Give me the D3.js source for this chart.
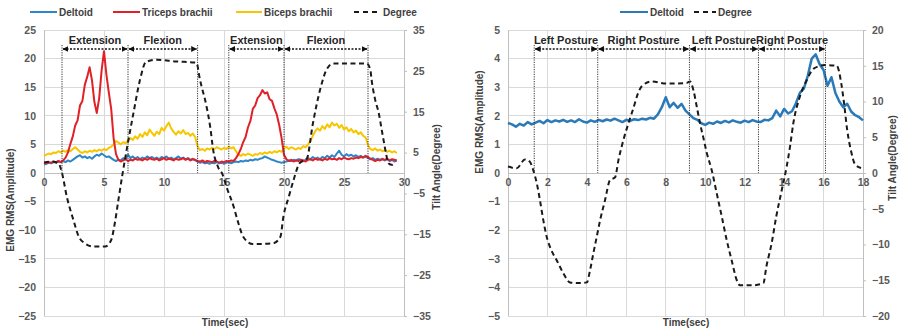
<!DOCTYPE html>
<html><head><meta charset="utf-8">
<script src="https://cdn.jsdelivr.net/npm/d3@7"></script>
<style>
body{margin:0;background:#fff;}
svg{display:block;font-family:"Liberation Sans",Arial,sans-serif;}
</style></head><body>
<svg id="chart" width="901" height="332"></svg>
<script>
// ---------------- DATA ----------------
// Left chart: EMG sampled every 0.2 s from t = 0
const leftStep = 0.2;
const leftDeltoid = [
1.5,1.6,1.8,1.7,1.9,1.8,2.0,1.9,2.1,1.9,
2.2,2.0,2.3,2.6,2.9,3.1,2.7,2.9,2.6,2.8,
2.5,2.9,3.2,3.0,3.4,3.1,2.8,2.9,2.6,2.3,
2.1,2.3,2.2,2.6,2.4,3.2,2.6,2.9,2.5,2.8,
2.4,2.7,2.5,2.9,2.6,2.8,2.5,2.7,2.4,2.8,
2.6,2.9,2.5,2.7,2.4,2.6,2.9,2.5,2.7,2.4,
2.6,2.3,2.5,2.2,2.0,1.8,1.9,1.7,1.8,1.6,
1.8,1.7,1.9,1.7,1.8,1.6,1.8,1.9,1.7,1.9,
2.0,1.9,2.1,2.0,2.2,2.1,2.3,2.2,2.4,2.3,
2.5,2.6,2.9,2.7,2.5,2.3,2.2,2.0,1.9,1.8,
1.9,2.0,2.2,2.1,2.3,2.2,2.4,2.3,2.1,2.3,
2.6,2.4,2.8,2.5,2.7,2.4,2.8,2.6,3.0,2.7,
3.1,2.8,3.4,3.9,3.2,2.9,3.3,3.0,3.2,2.9,
3.1,2.8,3.0,2.7,2.9,2.6,2.4,2.6,2.3,2.5,
2.3,2.5,2.2,2.4,2.1,2.3,2.0,2.2];
const leftTriceps = [
1.8,1.7,1.9,1.8,2.0,1.9,2.1,1.9,2.2,2.7,
3.6,5.1,6.4,8.3,9.2,11.8,12.6,15.4,16.8,18.5,
16.2,12.4,10.5,13.1,17.9,21.3,17.2,14.1,11.2,6.1,
3.3,2.3,2.0,2.2,2.4,2.1,2.3,2.2,2.5,2.3,
2.4,2.2,2.5,2.3,2.6,2.4,2.3,2.5,2.2,2.4,
2.6,2.3,2.5,2.4,2.2,2.5,2.3,2.4,2.6,2.3,
2.5,2.2,2.4,2.3,2.1,2.0,2.2,1.9,2.1,2.0,
1.9,2.1,2.0,1.8,2.0,1.9,2.1,2.0,2.2,2.1,
2.6,3.3,4.2,5.4,6.3,8.0,9.1,11.2,11.8,13.1,
13.6,14.5,13.9,14.1,12.9,12.6,11.3,10.2,8.4,6.1,
3.2,2.4,2.1,2.3,2.0,2.2,2.1,2.3,2.2,2.0,
2.3,2.4,2.2,2.5,2.3,2.4,2.2,2.5,2.3,2.6,
2.4,2.5,2.3,2.6,2.4,2.7,2.5,2.4,2.6,2.5,
2.7,2.6,2.8,2.7,3.0,2.8,2.5,2.3,2.1,2.3,
2.2,2.4,2.3,2.5,2.2,2.4,2.3,2.2];
const leftBiceps = [
3.0,3.2,3.4,3.3,3.6,3.5,3.8,3.6,3.9,3.7,
4.0,3.8,4.2,4.5,4.1,3.7,3.5,3.8,3.6,3.9,
3.7,4.0,3.8,4.1,3.9,4.2,4.0,4.4,4.6,5.0,
5.6,5.3,5.0,5.4,5.2,5.7,6.1,5.8,6.4,6.0,
6.8,6.3,7.1,6.6,7.6,7.0,6.5,7.2,6.8,7.9,
7.4,8.2,8.8,7.8,7.2,6.7,7.3,6.9,7.5,6.8,
7.0,6.5,6.9,6.3,4.6,4.0,4.2,3.9,4.3,4.1,
4.4,4.2,4.5,4.3,4.1,4.4,4.2,4.6,4.3,4.5,
3.8,3.2,3.0,3.3,3.1,3.4,3.2,3.0,3.3,3.2,
3.5,3.3,3.6,3.4,3.7,3.5,3.8,3.6,3.9,3.7,
4.3,4.6,4.2,4.5,4.3,4.1,4.4,4.2,4.7,4.5,
5.0,5.6,6.5,7.3,7.8,7.4,8.2,7.7,8.5,8.0,
8.8,8.3,8.6,7.9,8.4,7.6,8.0,7.3,7.7,7.1,
7.4,6.8,7.1,6.5,6.2,4.9,4.2,4.0,4.3,3.9,
4.1,3.8,4.0,3.7,3.9,3.6,3.8,3.5];
// [time (s), tilt angle (deg)]
const leftDegree = [[0,2.6],[0.6,2.8],[1.2,2.4],[1.5,0],[1.9,-5.8],[2.45,-11.5],[2.9,-15.6],[3.4,-17.2],[4.1,-18],[5.1,-18],[5.6,-16.4],[5.9,-12.3],[6.2,-6.6],[6.5,-1],[7.0,7.5],[7.45,14.6],[8.0,22.8],[8.5,27.2],[9.4,27.7],[11.0,27.3],[12.7,27],[13.0,22.8],[13.55,16.2],[13.85,11.3],[14.1,5.6],[14.5,1.5],[14.9,-0.5],[15.2,-3.3],[15.8,-8.2],[16.2,-12.3],[16.6,-15.6],[17.4,-17.4],[19.1,-17.2],[19.7,-15.6],[19.95,-10.7],[20.4,-5.8],[20.8,-1.7],[21.3,2.4],[21.9,3.5],[22.4,12],[23.0,20.3],[23.6,25.6],[24.1,26.8],[26.9,26.8],[27.2,25.2],[27.3,22.8],[27.6,17.9],[27.9,14.6],[28.1,11.3],[28.3,8],[28.5,4.8],[28.7,2.4],[29.0,2],[29.2,2.4]];
const leftXTicks = [0,5,10,15,20,25,30];
const leftYTicks = [-25,-20,-15,-10,-5,0,5,10,15,20,25];
const leftY2Ticks = [-35,-25,-15,-5,5,15,25,35];
const leftPhaseLabels = ["Extension","Flexion","Extension","Flexion"];
const leftPhaseStart = [1.5,7.0,15.4,20.0];
const leftPhaseEnd = [7.0,12.8,20.0,27.0];

// Right chart
const rightStep = 0.2;
const rightDeltoid = [
1.75,1.70,1.62,1.72,1.66,1.78,1.70,1.76,1.82,1.74,
1.85,1.78,1.84,1.80,1.86,1.79,1.84,1.78,1.88,1.80,
1.76,1.84,1.79,1.86,1.81,1.87,1.83,1.90,1.84,1.78,
1.86,1.82,1.88,1.85,1.90,1.87,1.93,1.90,2.05,2.30,
2.65,2.30,2.45,2.28,2.42,2.18,2.05,1.92,1.86,1.74,
1.68,1.76,1.72,1.80,1.75,1.82,1.77,1.84,1.79,1.76,
1.83,1.78,1.85,1.80,1.78,1.86,1.84,1.92,2.18,1.98,
2.24,2.08,2.16,2.44,2.80,2.95,3.40,4.00,4.15,3.80,
3.60,3.05,3.35,2.80,2.50,2.30,2.42,2.15,2.02,1.95,
1.84];
const rightDegree = [[0,0.9],[0.44,0.65],[0.86,1.9],[1.1,1.6],[1.28,0.4],[1.46,-1.45],[1.62,-3.8],[1.79,-6.6],[1.96,-8.9],[2.2,-10.8],[2.47,-12.2],[2.8,-14],[3.14,-15.3],[3.65,-15.4],[4.0,-15.3],[4.16,-13.6],[4.33,-11.2],[4.5,-8.9],[4.67,-6.6],[4.92,-3.8],[5.17,-1],[5.43,-0.6],[5.6,1.8],[5.85,4.6],[6.1,6.9],[6.35,9.0],[6.6,11.2],[6.8,12.2],[7.3,12.8],[8.05,12.5],[9.06,12.6],[9.23,12.8],[9.4,11.6],[9.57,9.3],[9.74,6.9],[9.9,5],[10.08,2.8],[10.33,0.4],[10.58,-2.8],[10.84,-6.1],[11.09,-9.4],[11.34,-12.2],[11.6,-15],[11.76,-15.7],[12.4,-15.7],[12.95,-15.4],[13.1,-13.1],[13.37,-9.8],[13.6,-6.1],[13.88,-2.4],[14.13,0.9],[14.3,3.7],[14.47,7],[14.8,10.7],[15.15,13],[15.5,14.6],[16.08,15.1],[16.67,15],[16.9,12.5],[17.05,9.5],[17.2,6],[17.4,3],[17.6,1.2],[17.9,0.7]];
const rightXTicks = [0,2,4,6,8,10,12,14,16,18];
const rightYTicks = [-5,-4,-3,-2,-1,0,1,2,3,4,5];
const rightY2Ticks = [-20,-15,-10,-5,0,5,10,15,20];
const rightPhaseLabels = ["Left Posture","Right Posture","Left Posture","Right Posture"];
const rightPhaseStart = [1.33,4.55,9.2,12.7];
const rightPhaseEnd = [4.55,9.2,12.7,16.1];

// ---------------- DRAW ----------------
const svg = d3.select("#chart");
svg.append("rect").attr("width",901).attr("height",332).attr("fill","#fff");

const defs = svg.append("defs");
defs.append("marker").attr("id","arrEnd").attr("viewBox","0 0 10 10").attr("refX",9).attr("refY",5)
  .attr("markerWidth",6).attr("markerHeight",6).attr("markerUnits","userSpaceOnUse").attr("orient","auto")
  .append("path").attr("d","M0,0L10,5L0,10Z").attr("fill","#111");
defs.append("marker").attr("id","arrStart").attr("viewBox","0 0 10 10").attr("refX",1).attr("refY",5)
  .attr("markerWidth",6).attr("markerHeight",6).attr("markerUnits","userSpaceOnUse").attr("orient","auto")
  .append("path").attr("d","M10,0L0,5L10,10Z").attr("fill","#111");

const labelColor = "#595959";
const gridColor = "#d9d9d9";

function drawChart(o){
  const g = svg.append("g");
  const [yb, yt] = o.y.range();
  const [xl, xr] = o.x.range();
  // grid
  g.selectAll(".vg").data(o.xTicks).join("line")
    .attr("x1",d=>o.x(d)).attr("x2",d=>o.x(d)).attr("y1",yt).attr("y2",yb)
    .attr("stroke",gridColor).attr("stroke-width",1).attr("shape-rendering","crispEdges");
  g.selectAll(".hg").data(o.yTicks).join("line")
    .attr("x1",xl).attr("x2",xr).attr("y1",d=>o.y(d)).attr("y2",d=>o.y(d))
    .attr("stroke",d=>d===0?"#bfbfbf":gridColor).attr("stroke-width",1).attr("shape-rendering","crispEdges");
  // axis lines
  g.append("line").attr("x1",xl).attr("x2",xl).attr("y1",yt).attr("y2",yb).attr("stroke","#bfbfbf").attr("shape-rendering","crispEdges");

  // left axis labels
  const ay = g.append("g").attr("transform",`translate(${xl},0)`)
    .call(d3.axisLeft(o.y).tickValues(o.yTicks).tickSize(0).tickPadding(8));
  ay.select(".domain").remove();
  // right axis
  const ay2 = g.append("g").attr("transform",`translate(${xr},0)`)
    .call(d3.axisRight(o.y2).tickValues(o.y2Ticks).tickSize(3).tickPadding(6).tickSizeOuter(0));
  ay2.select(".domain").attr("stroke","#bfbfbf");
  ay2.selectAll(".tick line").attr("stroke","#bfbfbf");
  // bottom labels at y=0
  const ax = g.append("g").attr("transform",`translate(0,${o.y(0)})`)
    .call(d3.axisBottom(o.x).tickValues(o.xTicks).tickSize(0).tickPadding(6));
  ax.select(".domain").remove();
  [ay,ay2,ax].forEach(a=>a.selectAll("text").attr("fill",labelColor).attr("font-size",10.5)
     .attr("font-weight","bold").attr("font-family","'Liberation Sans',Arial,sans-serif"));

  // series
  o.series.forEach(s=>{
    const line = d3.line().x((d,i)=>o.x(i*s.step)).y(d=>o.y(d));
    g.append("path").datum(s.values).attr("d",line).attr("fill","none")
      .attr("stroke",s.color).attr("stroke-width",s.width).attr("stroke-linejoin","round");
  });
  // degree
  const dline = d3.line().x(d=>o.x(d[0])).y(d=>o.y2(d[1])).curve(d3.curveMonotoneX);
  g.append("path").datum(o.degree).attr("d",dline).attr("fill","none")
    .attr("stroke","#1a1a1a").attr("stroke-width",2).attr("stroke-dasharray","5,3.5");

  // phases
  const bounds = Array.from(new Set(o.phaseStart.concat(o.phaseEnd)));
  g.selectAll(".pv").data(bounds).join("line")
    .attr("x1",d=>o.x(d)).attr("x2",d=>o.x(d)).attr("y1",45).attr("y2",o.y(0))
    .attr("stroke","#333").attr("stroke-width",1).attr("stroke-dasharray","1.2,1.2");
  o.phaseLabels.forEach((lab,i)=>{
    const a = o.x(o.phaseStart[i]), b = o.x(o.phaseEnd[i]);
    g.append("line").attr("x1",a+1).attr("x2",b-1).attr("y1",49).attr("y2",49)
      .attr("stroke","#111").attr("stroke-width",1.5).attr("stroke-dasharray","2,1.5")
      .attr("marker-start","url(#arrStart)").attr("marker-end","url(#arrEnd)");
    g.append("text").attr("x",(a+b)/2).attr("y",44).attr("text-anchor","middle")
      .attr("font-size",11).attr("font-weight","bold").attr("fill","#262626").text(lab);
  });

  // legend
  o.legend.forEach(l=>{
    g.append("line").attr("x1",l.x1).attr("x2",l.x2).attr("y1",12).attr("y2",12)
      .attr("stroke",l.color).attr("stroke-width",2)
      .attr("stroke-dasharray",l.dash?"5,4":null);
    g.append("text").attr("x",l.x2+2).attr("y",15.5).attr("font-size",10).attr("font-weight","bold")
      .attr("fill","#404040").text(l.label);
  });

  // titles
  const t = o.titles;
  g.append("text").attr("x",t.xTitle[0]).attr("y",t.xTitle[1]).attr("text-anchor","middle")
    .attr("font-size",10).attr("font-weight","bold").attr("fill","#404040").text("Time(sec)");
  g.append("text").attr("transform",`translate(${t.yTitle[0]},${t.yTitle[1]}) rotate(-90)`)
    .attr("text-anchor","middle").attr("font-size",10).attr("font-weight","bold").attr("fill","#404040")
    .text("EMG RMS(Amplitude)");
  g.append("text").attr("transform",`translate(${t.y2Title[0]},${t.y2Title[1]}) rotate(-90)`)
    .attr("text-anchor","middle").attr("font-size",10).attr("font-weight","bold").attr("fill","#404040")
    .text("Tilt Angle(Degree)");
}

const blue = "#2e86c8", red = "#e02127", yellow = "#f7c600";

drawChart({
  x: d3.scaleLinear().domain([0,30]).range([44,404]),
  y: d3.scaleLinear().domain([-25,25]).range([316,30]),
  y2: d3.scaleLinear().domain([-35,35]).range([316,30]),
  xTicks: leftXTicks, yTicks: leftYTicks, y2Ticks: leftY2Ticks,
  series: [
    {values:leftDeltoid, step:leftStep, color:blue, width:2},
    {values:leftBiceps, step:leftStep, color:yellow, width:2},
    {values:leftTriceps, step:leftStep, color:red, width:2}
  ],
  degree: leftDegree,
  phaseLabels: leftPhaseLabels, phaseStart: leftPhaseStart, phaseEnd: leftPhaseEnd,
  legend: [
    {x1:30,x2:57,color:blue,label:"Deltoid"},
    {x1:113,x2:140,color:red,label:"Triceps brachii"},
    {x1:236,x2:262,color:yellow,label:"Biceps brachii"},
    {x1:354,x2:381,color:"#1a1a1a",dash:true,label:"Degree"}
  ],
  titles: {xTitle:[225,326], yTitle:[14,200], y2Title:[440,167]}
});

drawChart({
  x: d3.scaleLinear().domain([0,18]).range([508,863]),
  y: d3.scaleLinear().domain([-5,5]).range([316,30]),
  y2: d3.scaleLinear().domain([-20,20]).range([316,30]),
  xTicks: rightXTicks, yTicks: rightYTicks, y2Ticks: rightY2Ticks,
  series: [
    {values:rightDeltoid, step:rightStep, color:"#2a7ab9", width:2.5}
  ],
  degree: rightDegree,
  phaseLabels: rightPhaseLabels, phaseStart: rightPhaseStart, phaseEnd: rightPhaseEnd,
  legend: [
    {x1:620,x2:648,color:"#2a7ab9",label:"Deltoid"},
    {x1:694,x2:716,color:"#1a1a1a",dash:true,label:"Degree"}
  ],
  titles: {xTitle:[686,326], yTitle:[483,122], y2Title:[896,158]}
});
</script>
</body></html>
